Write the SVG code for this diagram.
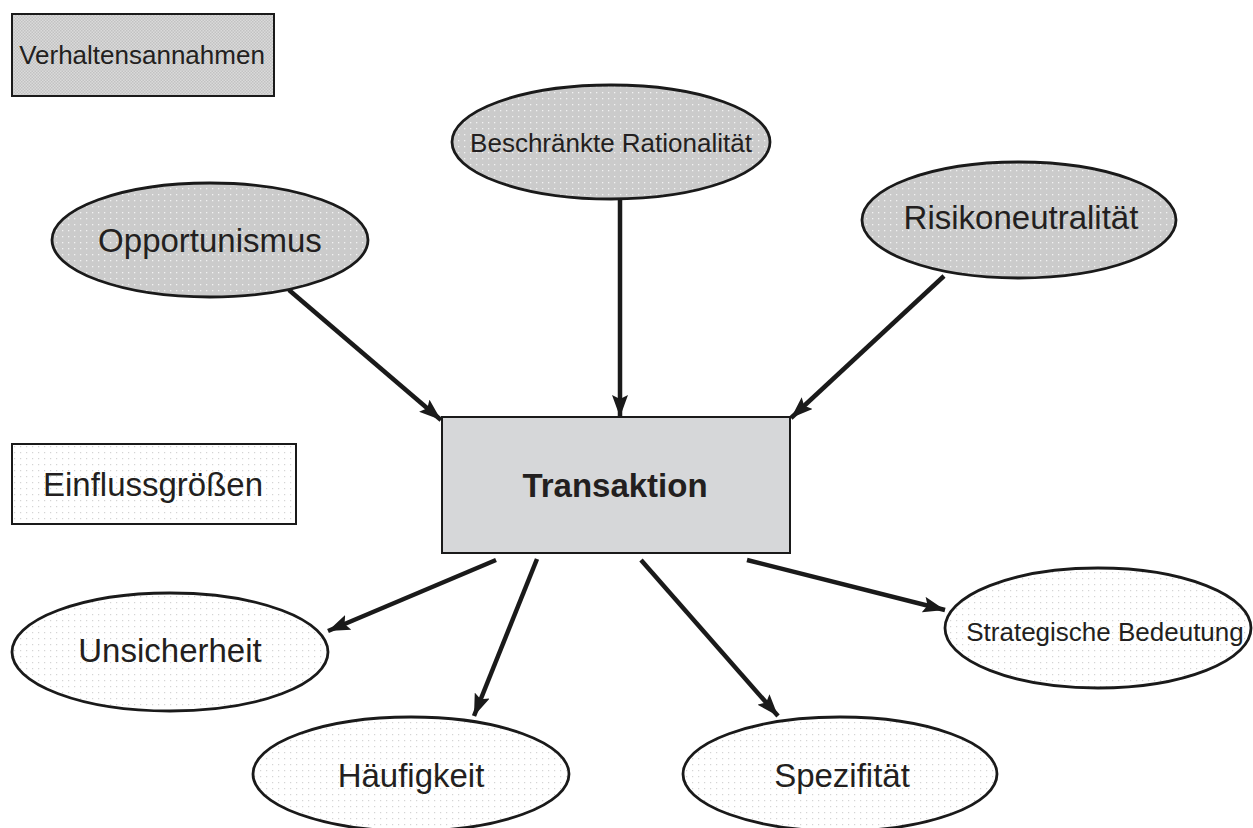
<svg xmlns="http://www.w3.org/2000/svg" width="1253" height="828" viewBox="0 0 1253 828">
  <style>
    .lbl { font-family: "Liberation Sans", Arial, sans-serif; fill: #231f20; text-anchor: middle; }
    .big { font-size: 33px; }
    .small { font-size: 26px; }
    .bold { font-size: 33px; font-weight: bold; }
    .outline { stroke: #1a1a1a; stroke-width: 2.8; }
    .box { stroke: #1a1a1a; stroke-width: 2; }
    .conn { stroke: #1a1a1a; stroke-width: 4.5; fill: none; marker-end: url(#head); }
  </style>
  <defs>
    <!-- gray fill with white dots for behavioural assumptions -->
    <pattern id="grayDots" width="6" height="6" patternUnits="userSpaceOnUse">
      <rect width="6" height="6" fill="#cbcbcb"/>
      <rect x="2" y="2" width="1.3" height="1.3" fill="#f2f2f2"/>
    </pattern>
    <!-- white fill with light dots for influencing factors -->
    <pattern id="lightDots" width="6" height="6" patternUnits="userSpaceOnUse">
      <rect width="6" height="6" fill="#ffffff"/>
      <rect x="2" y="2" width="1.2" height="1.2" fill="#d4d4d4"/>
    </pattern>
    <!-- fine checker for the legend box -->
    <pattern id="checker" width="3" height="3" patternUnits="userSpaceOnUse">
      <rect width="3" height="3" fill="#dadada"/>
      <rect width="1.5" height="1.5" fill="#c2c2c2"/>
      <rect x="1.5" y="1.5" width="1.5" height="1.5" fill="#c2c2c2"/>
    </pattern>
    <marker id="head" viewBox="0 0 22 16" refX="22" refY="8" markerWidth="22" markerHeight="16" markerUnits="userSpaceOnUse" orient="auto">
      <path d="M0,0 L22,8 L0,16 L4,8 Z" fill="#1a1a1a"/>
    </marker>
  </defs>

  <!-- legend boxes -->
  <g id="verhaltensannahmen">
    <rect x="12" y="14" width="262" height="82" fill="url(#checker)" class="box"/>
    <text x="142" y="64" class="lbl small">Verhaltensannahmen</text>
  </g>
  <g id="einflussgroessen">
    <rect x="12" y="444" width="284" height="80" fill="url(#lightDots)" class="box"/>
    <text x="153" y="496" class="lbl big">Einflussgrößen</text>
  </g>

  <!-- behavioural assumptions -->
  <g id="beschraenkte-rationalitaet">
    <ellipse cx="611" cy="142" rx="159" ry="57" fill="url(#grayDots)" class="outline"/>
    <text x="611" y="152" class="lbl small">Beschränkte Rationalität</text>
  </g>
  <g id="opportunismus">
    <ellipse cx="210" cy="240" rx="158" ry="57" fill="url(#grayDots)" class="outline"/>
    <text x="210" y="252" class="lbl big">Opportunismus</text>
  </g>
  <g id="risikoneutralitaet">
    <ellipse cx="1019" cy="220" rx="157" ry="58" fill="url(#grayDots)" class="outline"/>
    <text x="1021" y="229" class="lbl big">Risikoneutralität</text>
  </g>

  <!-- central node -->
  <g id="transaktion">
    <rect x="442" y="417" width="348" height="136" fill="#d6d7d9" class="box"/>
    <text x="615" y="497" class="lbl bold">Transaktion</text>
  </g>

  <!-- influencing factors -->
  <g id="unsicherheit">
    <ellipse cx="170" cy="652" rx="158" ry="59" fill="url(#lightDots)" class="outline"/>
    <text x="170" y="662" class="lbl big">Unsicherheit</text>
  </g>
  <g id="haeufigkeit">
    <ellipse cx="411" cy="774" rx="158" ry="57" fill="url(#lightDots)" class="outline"/>
    <text x="411" y="787" class="lbl big">Häufigkeit</text>
  </g>
  <g id="spezifitaet">
    <ellipse cx="840" cy="774" rx="157" ry="57" fill="url(#lightDots)" class="outline"/>
    <text x="842" y="787" class="lbl big">Spezifität</text>
  </g>
  <g id="strategische-bedeutung">
    <ellipse cx="1098" cy="628" rx="153" ry="60" fill="url(#lightDots)" class="outline"/>
    <text x="1105" y="641" class="lbl small">Strategische Bedeutung</text>
  </g>

  <!-- connectors -->
  <g id="connectors">
    <line x1="289" y1="290" x2="441" y2="420" class="conn"/>
    <line x1="620" y1="200" x2="620" y2="417" class="conn"/>
    <line x1="944" y1="276" x2="791" y2="418" class="conn"/>
    <line x1="496" y1="560" x2="328" y2="631" class="conn"/>
    <line x1="537" y1="559" x2="474" y2="716" class="conn"/>
    <line x1="641" y1="560" x2="778" y2="716" class="conn"/>
    <line x1="747" y1="560" x2="945" y2="610" class="conn"/>
  </g>
</svg>
